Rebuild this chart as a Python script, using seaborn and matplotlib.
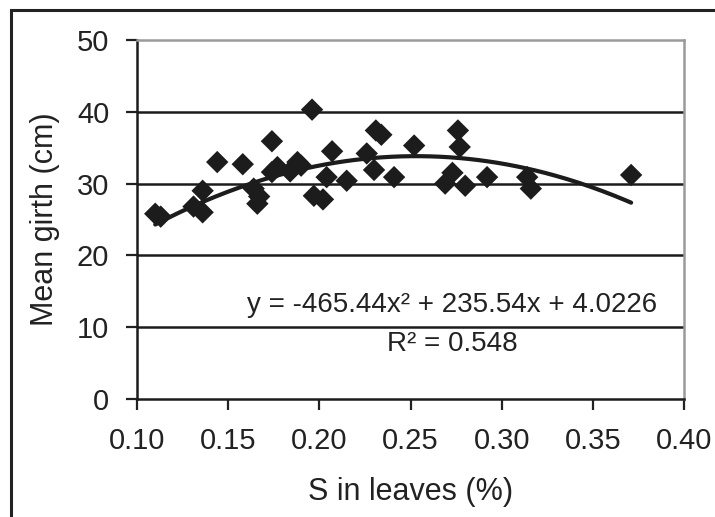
import matplotlib
matplotlib.use("Agg")
import matplotlib.pyplot as plt
from matplotlib.patches import Rectangle
import numpy as np
import pandas as pd
import seaborn as sns

# Sulphur concentration in leaves (%) and mean girth (cm)
s_leaves = [0.110, 0.113, 0.131, 0.136, 0.136, 0.144, 0.158, 0.164, 0.167, 0.166,
            0.174, 0.174, 0.177, 0.184, 0.188, 0.190, 0.196, 0.197, 0.202, 0.204,
            0.207, 0.215, 0.226, 0.230, 0.231, 0.234, 0.241, 0.252, 0.269, 0.273,
            0.276, 0.277, 0.280, 0.292, 0.314, 0.316, 0.371]
girth = [25.8, 25.4, 26.8, 26.0, 29.0, 33.0, 32.7, 29.3, 28.2, 27.2,
         35.9, 31.6, 32.3, 31.7, 33.0, 32.5, 40.3, 28.3, 27.8, 30.9,
         34.5, 30.4, 34.2, 31.9, 37.4, 36.8, 30.9, 35.3, 30.0, 31.5,
         37.4, 35.1, 29.7, 30.9, 30.9, 29.3, 31.2]

# Quadratic trendline coefficients (a*x^2 + b*x + c) and fit quality
trend_coef = [-465.44, 235.54, 4.0226]
r_squared = 0.548

x_ticks = [0.10, 0.15, 0.20, 0.25, 0.30, 0.35, 0.40]
y_ticks = [0, 10, 20, 30, 40, 50]

sns.set_theme(style="white")
plt.rcParams["font.family"] = ["Liberation Sans", "DejaVu Sans"]

df = pd.DataFrame({"s": s_leaves, "girth": girth})
xs = np.linspace(min(s_leaves), max(s_leaves), 200)
a, b, c = trend_coef
trend = pd.DataFrame({"s": xs, "fit": a * xs ** 2 + b * xs + c})

fig = plt.figure(figsize=(7.15, 5.17), dpi=100)
ax = fig.add_axes([137 / 715, 1 - 399 / 517, 547 / 715, 359 / 517])

ink = "#1c1c1c"
for yv in y_ticks[1:-1]:
    ax.axhline(yv, color=ink, lw=1.8, zorder=1)

sns.scatterplot(data=df, x="s", y="girth", marker="D", s=130, color=ink,
                edgecolor="none", ax=ax, zorder=3)
sns.lineplot(data=trend, x="s", y="fit", color=ink, lw=3.0, ax=ax, zorder=4)

ax.set_xlim(0.10, 0.40)
ax.set_ylim(0, 50)
ax.set_xticks(x_ticks)
ax.set_xticklabels([f"{v:.2f}" for v in x_ticks])
ax.set_yticks(y_ticks)
ax.set_yticklabels([str(v) for v in y_ticks])

ax.set_xlabel("S in leaves (%)", fontsize=22, color="#222222", labelpad=16)
ax.set_ylabel("Mean girth (cm)", fontsize=22, color="#222222", labelpad=12)

ax.tick_params(axis="both", which="major", labelsize=21, colors="#222222",
               direction="out", length=8, width=1.6)
ax.tick_params(axis="x", pad=12, bottom=True)
ax.tick_params(axis="y", pad=12, left=True)

for side in ("left", "bottom"):
    ax.spines[side].set_color(ink)
    ax.spines[side].set_linewidth(1.8)
for side in ("top", "right"):
    ax.spines[side].set_visible(True)
    ax.spines[side].set_color("#9a9a9a")
    ax.spines[side].set_linewidth(1.8)

ax.text(0.576, 0.262, "y = -465.44x² + 235.54x + 4.0226",
        transform=ax.transAxes, ha="center", va="center", fontsize=20,
        color="#222222")
ax.text(0.576, 0.153, f"R² = {r_squared:.3f}",
        transform=ax.transAxes, ha="center", va="center", fontsize=20,
        color="#222222")

# outer chart frame running off the right and bottom edges
fig.patches.append(Rectangle((11 / 715, -0.1), 1.2, 1.1 - 10 / 517,
                             transform=fig.transFigure, fill=False,
                             edgecolor="#222222", lw=2.2, clip_on=False))

fig.savefig("out.png", dpi=100)
